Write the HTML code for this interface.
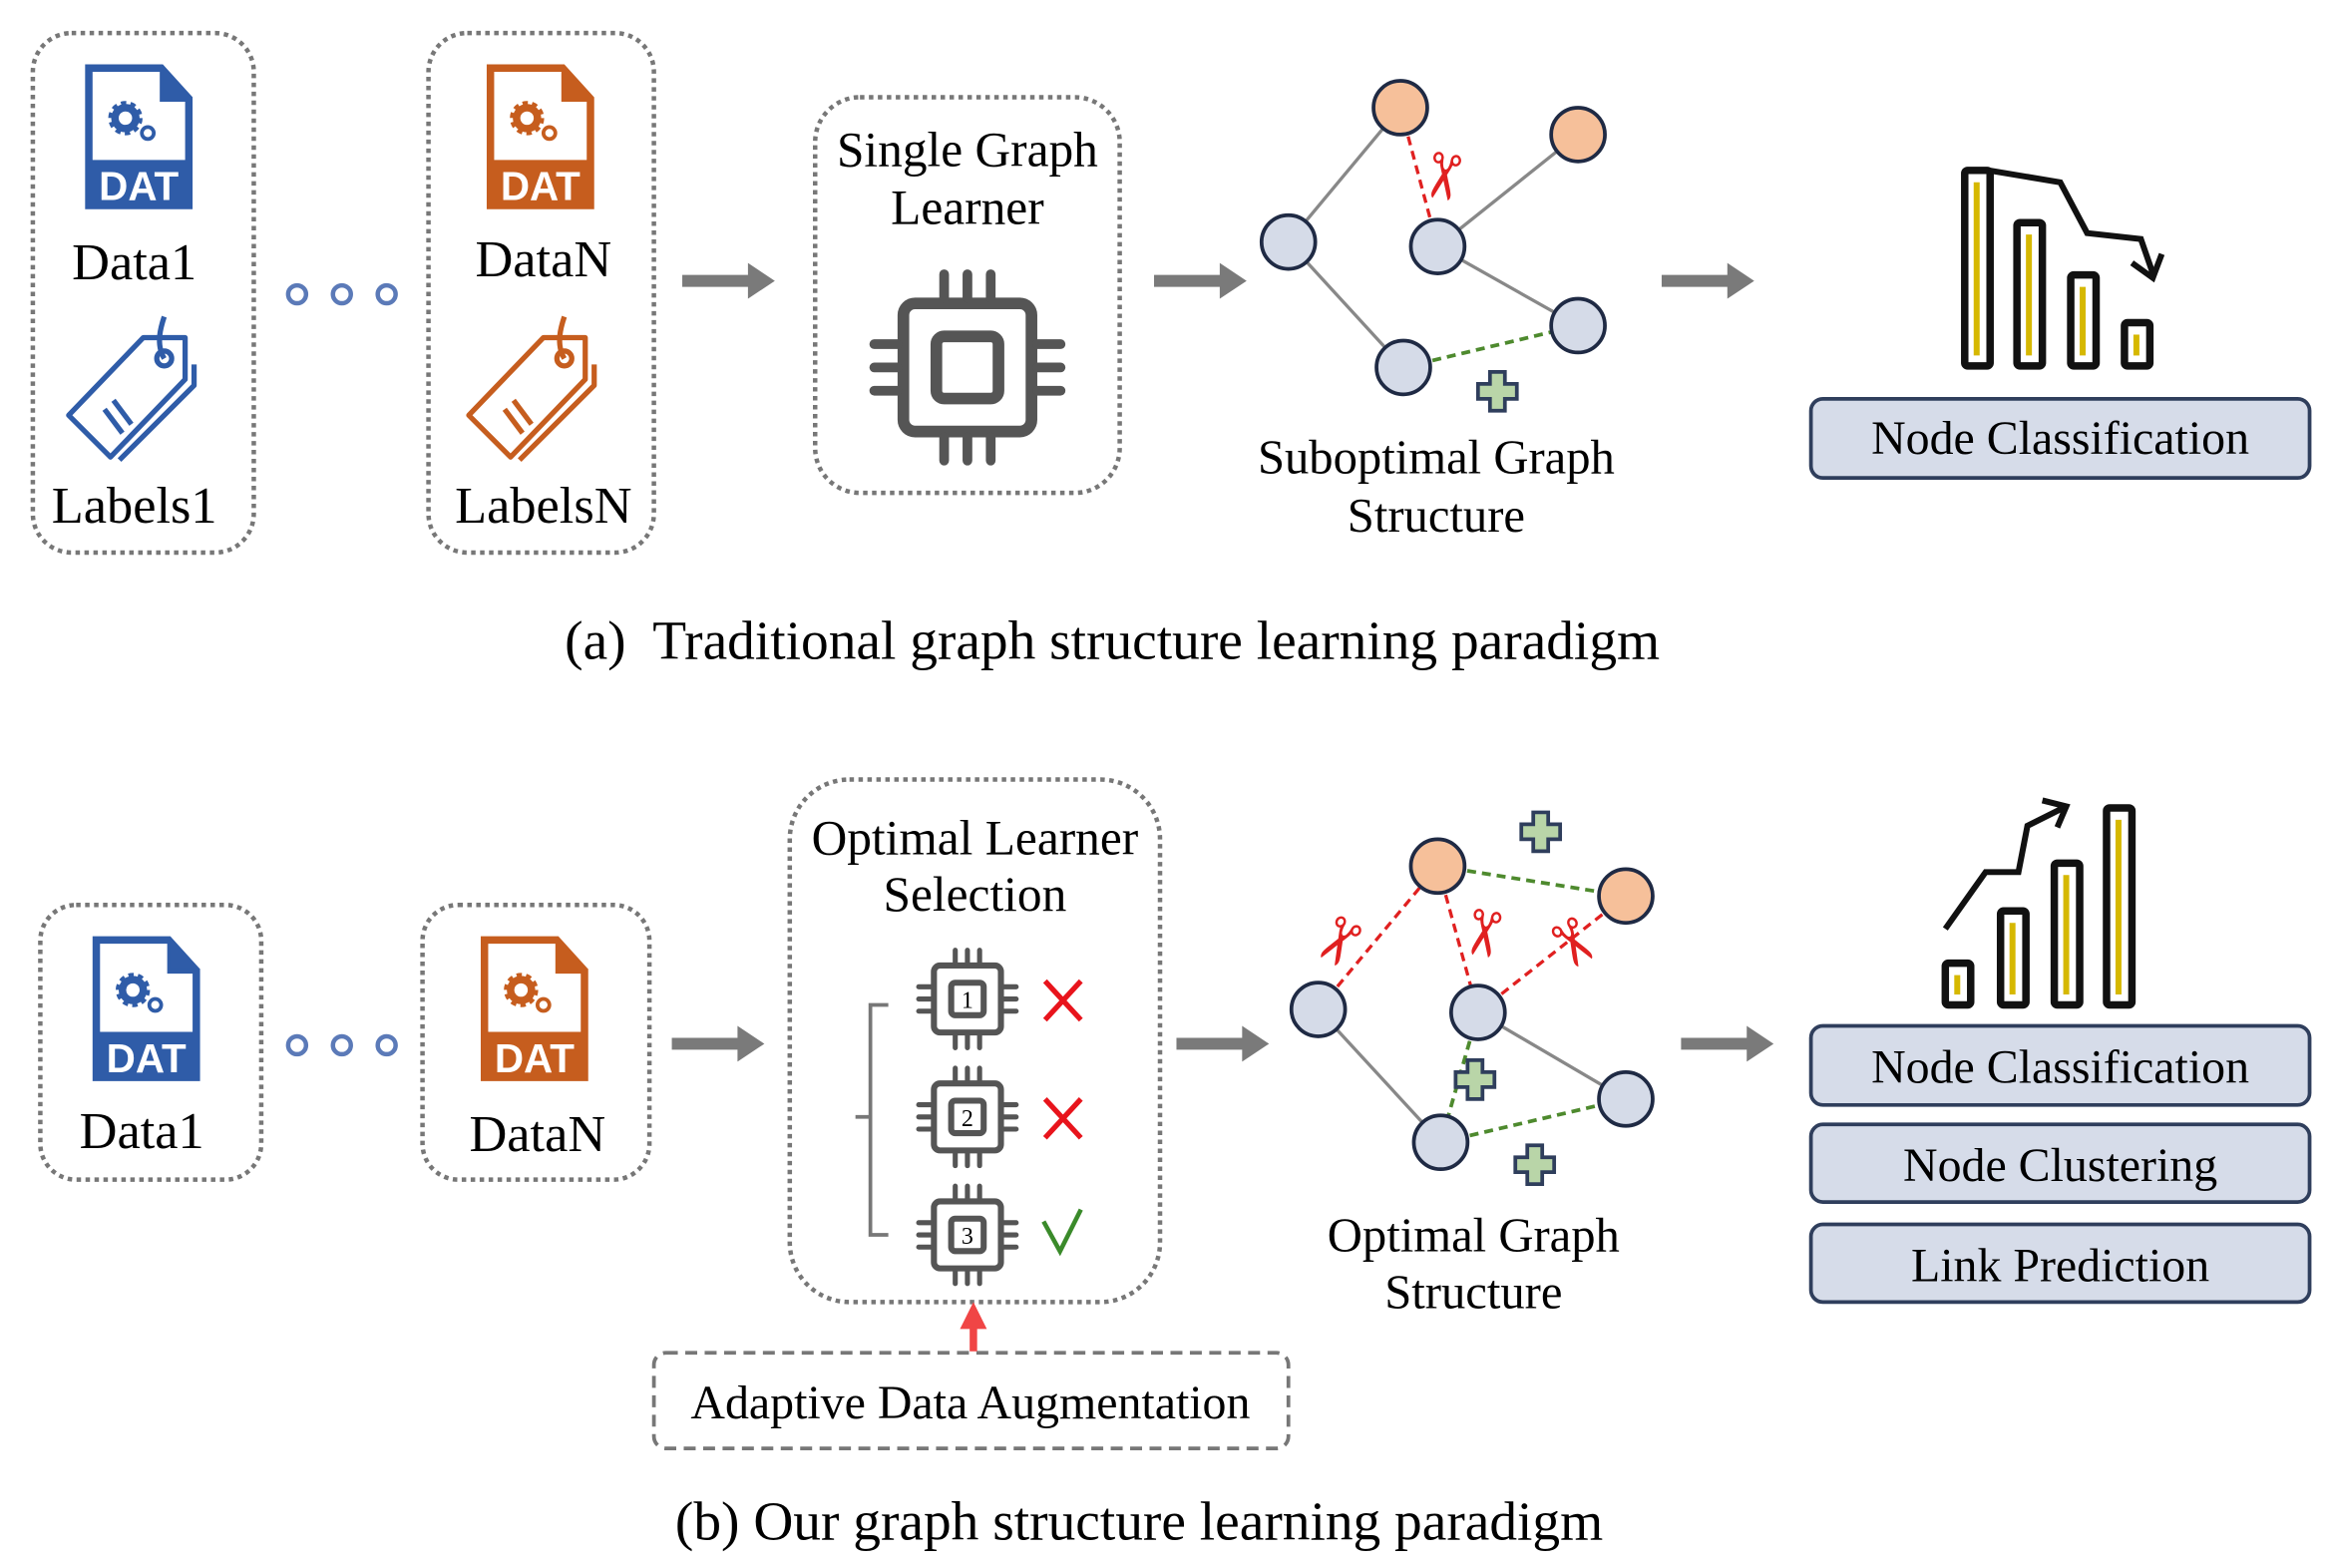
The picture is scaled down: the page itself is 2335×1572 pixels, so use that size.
<!DOCTYPE html>
<html><head><meta charset="utf-8"><style>
html,body{margin:0;padding:0;background:#fff;}
svg{display:block;}
text{font-family:"Liberation Serif",serif;fill:#000;}
</style></head><body>
<svg width="2335" height="1572" viewBox="0 0 1560 1050" xmlns="http://www.w3.org/2000/svg">
<defs>
  <g id="datB">
    <path d="M0,0 H52 L72,22 V97 H0 Z" fill="#2f5ca8"/>
    <path d="M5,5 H50 V25 H67 V64 H5 Z" fill="#fff"/>
    <path d="M52,0 L72,22 H52 Z" fill="#2f5ca8"/>
    <circle cx="27" cy="36" r="7" fill="none" stroke="#2f5ca8" stroke-width="5"/>
    <circle cx="27" cy="36" r="10" fill="none" stroke="#2f5ca8" stroke-width="3" stroke-dasharray="3.5 2.8"/>
    <circle cx="42" cy="46" r="4" fill="none" stroke="#2f5ca8" stroke-width="2.5"/>
    <text x="36" y="91" text-anchor="middle" font-weight="bold" font-size="27" style="fill:#fff;font-family:'Liberation Sans',sans-serif">DAT</text>
  </g>
  <g id="datO">
    <path d="M0,0 H52 L72,22 V97 H0 Z" fill="#c65d1e"/>
    <path d="M5,5 H50 V25 H67 V64 H5 Z" fill="#fff"/>
    <circle cx="27" cy="36" r="7" fill="none" stroke="#c65d1e" stroke-width="5"/>
    <circle cx="27" cy="36" r="10" fill="none" stroke="#c65d1e" stroke-width="3" stroke-dasharray="3.5 2.8"/>
    <circle cx="42" cy="46" r="4" fill="none" stroke="#c65d1e" stroke-width="2.5"/>
    <text x="36" y="91" text-anchor="middle" font-weight="bold" font-size="27" style="fill:#fff;font-family:'Liberation Sans',sans-serif">DAT</text>
  </g>
  <g id="tag" fill="none" stroke-width="3.5" stroke-linejoin="round">
    <path d="M2,68 L52,16 L80,16 L80,44 L30,96 Z"/>
    <path d="M86,34 L86,48 L36,98"/>
    <circle cx="66" cy="30" r="5"/>
    <path d="M66,30 C60,20 64,8 66,2"/>
    <path d="M32,58 L44,74 M26,64 L38,80"/>
  </g>
  <g id="chip" fill="none" stroke="#555" stroke-linecap="round">
    <rect x="17" y="17" width="66" height="66" rx="6" stroke-width="6"/>
    <rect x="34" y="34" width="32" height="32" rx="4" stroke-width="6"/>
    <path d="M38,2 V14 M50,2 V14 M62,2 V14 M38,86 V98 M50,86 V98 M62,86 V98 M2,38 H14 M2,50 H14 M2,62 H14 M86,38 H98 M86,50 H98 M86,62 H98" stroke-width="5"/>
  </g>
  <g id="plus">
    <path d="M-5,-13 H5 V-5 H13 V5 H5 V13 H-5 V5 H-13 V-5 H-5 Z" fill="#b9d5a8" stroke="#2f3e5c" stroke-width="2.5"/>
  </g>
  <g id="arr">
    <path d="M0,-4 H44 V-12 L62,0 L44,12 V4 H0 Z" fill="#7a7a7a"/>
  </g>
</defs>

<g fill="none" stroke="#777" stroke-width="3" stroke-dasharray="3 3">
  <rect x="22" y="22" width="148" height="348" rx="26"/>
  <rect x="287" y="22" width="151" height="348" rx="26"/>
  <rect x="546" y="65" width="204" height="265" rx="30"/>
  <rect x="27" y="606" width="148" height="184" rx="24"/>
  <rect x="283" y="606" width="152" height="184" rx="24"/>
  <rect x="529" y="522" width="248" height="350" rx="40"/>
</g>
<rect x="438" y="906" width="425" height="64" rx="8" fill="none" stroke="#777" stroke-width="2.5" stroke-dasharray="8 5"/>

<!-- part a -->
<use href="#datB" x="57" y="43"/>
<use href="#datO" x="326" y="43"/>
<use href="#tag" x="44" y="210" stroke="#2f5ca8"/>
<use href="#tag" x="312" y="210" stroke="#c65d1e"/>
<text x="90" y="187" font-size="35" text-anchor="middle">Data1</text>
<text x="90" y="350" font-size="35" text-anchor="middle">Labels1</text>
<text x="364" y="185" font-size="35" text-anchor="middle">DataN</text>
<text x="364" y="350" font-size="35" text-anchor="middle">LabelsN</text>
<g fill="none" stroke="#5b7ab8" stroke-width="3">
  <circle cx="199" cy="197" r="6"/><circle cx="229" cy="197" r="6"/><circle cx="259" cy="197" r="6"/>
  <circle cx="199" cy="700" r="6"/><circle cx="229" cy="700" r="6"/><circle cx="259" cy="700" r="6"/>
</g>
<use href="#arr" x="457" y="188"/>
<use href="#arr" x="773" y="188"/>
<use href="#arr" x="1113" y="188"/>
<text x="648" y="111" font-size="33" text-anchor="middle">Single Graph</text>
<text x="648" y="150" font-size="33" text-anchor="middle">Learner</text>
<use href="#chip" transform="translate(583,181) scale(1.3)"/>

<g stroke="#888" stroke-width="2.2">
  <line x1="863" y1="162" x2="938" y2="72"/>
  <line x1="963" y1="165" x2="1057" y2="90"/>
  <line x1="863" y1="162" x2="940" y2="246"/>
  <line x1="963" y1="165" x2="1057" y2="218"/>
</g>
<line x1="938" y1="72" x2="963" y2="165" stroke="#e02020" stroke-width="2.2" stroke-dasharray="6 4"/>
<line x1="940" y1="246" x2="1057" y2="218" stroke="#4e8a2e" stroke-width="2.5" stroke-dasharray="6 4"/>
<text x="966" y="132" font-size="42" text-anchor="middle" transform="rotate(100 966 118)" style="fill:#e02020;font-family:'DejaVu Sans',sans-serif">✂</text>
<use href="#plus" x="1003" y="262"/>
<g stroke="#1f2a44" stroke-width="2.5">
  <circle cx="938" cy="72" r="18" fill="#f6c09a"/>
  <circle cx="1057" cy="90" r="18" fill="#f6c09a"/>
  <circle cx="863" cy="162" r="18" fill="#d5dbe8"/>
  <circle cx="963" cy="165" r="18" fill="#d5dbe8"/>
  <circle cx="1057" cy="218" r="18" fill="#d5dbe8"/>
  <circle cx="940" cy="246" r="18" fill="#d5dbe8"/>
</g>
<text x="962" y="317" font-size="32.5" text-anchor="middle">Suboptimal Graph</text>
<text x="962" y="356" font-size="32.5" text-anchor="middle">Structure</text>

<g stroke="#111" stroke-width="5" fill="none">
  <rect x="1316" y="114" width="17" height="131" rx="2"/>
  <rect x="1351" y="149" width="17" height="96" rx="2"/>
  <rect x="1387" y="184" width="17" height="61" rx="2"/>
  <rect x="1423" y="216" width="17" height="29" rx="2"/>
  <path d="M1332,114 L1380,122 L1398,156 L1434,160 L1442,183" stroke-width="4"/>
  <path d="M1428,176 L1442,186 L1448,170" stroke-width="4"/>
</g>
<g stroke="#d6b800" stroke-width="4">
  <line x1="1324" y1="122" x2="1324" y2="238"/><line x1="1359" y1="157" x2="1359" y2="238"/>
  <line x1="1395" y1="192" x2="1395" y2="238"/><line x1="1431" y1="224" x2="1431" y2="238"/>
</g>
<rect x="1213" y="267" width="334" height="53" rx="8" fill="#d6dce9" stroke="#2f3e5c" stroke-width="2.5"/>
<text x="1380" y="304" font-size="32" text-anchor="middle">Node Classification</text>
<text x="745" y="441" font-size="37" text-anchor="middle" xml:space="preserve">(a)  Traditional graph structure learning paradigm</text>

<!-- part b -->
<use href="#datB" x="62" y="627"/>
<use href="#datO" x="322" y="627"/>
<text x="95" y="769" font-size="35" text-anchor="middle">Data1</text>
<text x="360" y="771" font-size="35" text-anchor="middle">DataN</text>
<use href="#arr" x="450" y="699"/>
<use href="#arr" x="788" y="699"/>
<use href="#arr" x="1126" y="699"/>
<text x="653" y="572" font-size="33" text-anchor="middle">Optimal Learner</text>
<text x="653" y="610" font-size="33" text-anchor="middle">Selection</text>
<path d="M595,673 H583 V827 H595 M583,748 H573" fill="none" stroke="#777" stroke-width="2.5"/>
<use href="#chip" transform="translate(614,635) scale(0.68)"/>
<use href="#chip" transform="translate(614,714) scale(0.68)"/>
<use href="#chip" transform="translate(614,793) scale(0.68)"/>
<g font-size="16" text-anchor="middle"><text x="648" y="675">1</text><text x="648" y="754">2</text><text x="648" y="833">3</text></g>
<g stroke="#e8141c" stroke-width="3.5">
  <path d="M700,657 L724,683 M724,657 L700,683"/>
  <path d="M700,736 L724,762 M724,736 L700,762"/>
</g>
<path d="M699,818 L710,838 L724,810" fill="none" stroke="#3a8a2a" stroke-width="3"/>
<path d="M652,905 V888" stroke="#f04545" stroke-width="5"/>
<path d="M643,890 L652,872 L661,890 Z" fill="#f04545"/>
<text x="650" y="950" font-size="32" text-anchor="middle">Adaptive Data Augmentation</text>

<g stroke="#888" stroke-width="2.2">
  <line x1="883" y1="676" x2="965" y2="765"/>
  <line x1="990" y1="678" x2="1089" y2="736"/>
</g>
<g stroke="#e02020" stroke-width="2.2" stroke-dasharray="6 4">
  <line x1="883" y1="676" x2="963" y2="580"/>
  <line x1="963" y1="580" x2="990" y2="678"/>
  <line x1="990" y1="678" x2="1089" y2="600"/>
</g>
<g stroke="#4e8a2e" stroke-width="2.5" stroke-dasharray="6 4">
  <line x1="963" y1="580" x2="1089" y2="600"/>
  <line x1="990" y1="678" x2="965" y2="765"/>
  <line x1="965" y1="765" x2="1089" y2="736"/>
</g>
<g font-size="42" text-anchor="middle" style="font-family:'DejaVu Sans',sans-serif">
  <text x="896" y="644" transform="rotate(120 896 630)" style="fill:#e02020">✂</text>
  <text x="993" y="639" transform="rotate(100 993 625)" style="fill:#e02020">✂</text>
  <text x="1053" y="646" transform="rotate(60 1053 632)" style="fill:#e02020">✂</text>
</g>
<use href="#plus" x="1032" y="557"/>
<use href="#plus" x="988" y="723"/>
<use href="#plus" x="1028" y="780"/>
<g stroke="#1f2a44" stroke-width="2.5">
  <circle cx="963" cy="580" r="18" fill="#f6c09a"/>
  <circle cx="1089" cy="600" r="18" fill="#f6c09a"/>
  <circle cx="883" cy="676" r="18" fill="#d5dbe8"/>
  <circle cx="990" cy="678" r="18" fill="#d5dbe8"/>
  <circle cx="1089" cy="736" r="18" fill="#d5dbe8"/>
  <circle cx="965" cy="765" r="18" fill="#d5dbe8"/>
</g>
<text x="987" y="838" font-size="32.5" text-anchor="middle">Optimal Graph</text>
<text x="987" y="876" font-size="32.5" text-anchor="middle">Structure</text>

<g stroke="#111" stroke-width="5" fill="none">
  <rect x="1303" y="645" width="17" height="28" rx="2"/>
  <rect x="1340" y="610" width="17" height="63" rx="2"/>
  <rect x="1376" y="578" width="17" height="95" rx="2"/>
  <rect x="1411" y="541" width="17" height="132" rx="2"/>
  <path d="M1303,622 L1330,584 L1352,584 L1358,553 L1382,541" stroke-width="4"/>
  <path d="M1368,536 L1384,540 L1378,554" stroke-width="4"/>
</g>
<g stroke="#d6b800" stroke-width="4">
  <line x1="1311" y1="653" x2="1311" y2="666"/><line x1="1348" y1="618" x2="1348" y2="666"/>
  <line x1="1384" y1="586" x2="1384" y2="666"/><line x1="1419" y1="549" x2="1419" y2="666"/>
</g>
<g fill="#d6dce9" stroke="#2f3e5c" stroke-width="2.5">
  <rect x="1213" y="687" width="334" height="53" rx="8"/>
  <rect x="1213" y="753" width="334" height="52" rx="8"/>
  <rect x="1213" y="820" width="334" height="52" rx="8"/>
</g>
<g font-size="32" text-anchor="middle">
  <text x="1380" y="725">Node Classification</text>
  <text x="1380" y="791">Node Clustering</text>
  <text x="1380" y="858">Link Prediction</text>
</g>
<text x="763" y="1031" font-size="37" text-anchor="middle">(b) Our graph structure learning paradigm</text>
</svg>
</body></html>
